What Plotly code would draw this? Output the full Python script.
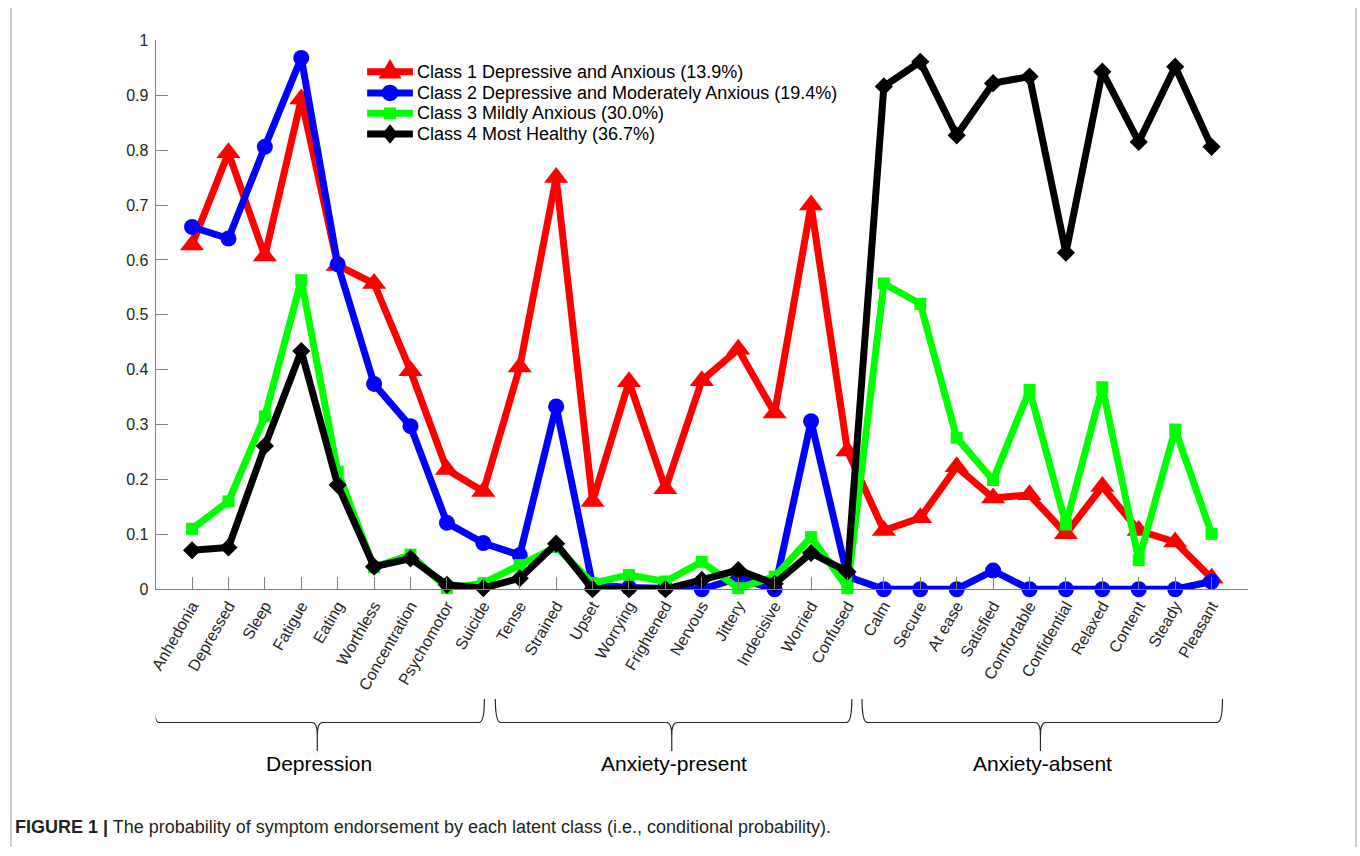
import plotly.graph_objects as go

# ---------------- data ----------------
symptoms = ["Anhedonia", "Depressed", "Sleep", "Fatigue", "Eating", "Worthless",
            "Concentration", "Psychomotor", "Suicide",
            "Tense", "Strained", "Upset", "Worrying", "Frightened", "Nervous",
            "Jittery", "Indecisive", "Worried", "Confused",
            "Calm", "Secure", "At ease", "Satisfied", "Comfortable", "Confidential",
            "Relaxed", "Content", "Steady", "Pleasant"]

class1 = [0.627, 0.795, 0.607, 0.893, 0.590, 0.557, 0.398, 0.218, 0.178,
          0.405, 0.750, 0.160, 0.378, 0.183, 0.380, 0.437, 0.321, 0.700, 0.252,
          0.107, 0.130, 0.223, 0.166, 0.172, 0.101, 0.187, 0.107, 0.086, 0.020]
class2 = [0.660, 0.639, 0.806, 0.968, 0.592, 0.374, 0.297, 0.121, 0.084,
          0.062, 0.333, 0.008, 0.003, 0.003, 0.000, 0.020, 0.000, 0.306, 0.023,
          0.000, 0.000, 0.000, 0.034, 0.000, 0.000, 0.000, 0.000, 0.000, 0.014]
class3 = [0.110, 0.160, 0.315, 0.563, 0.214, 0.040, 0.063, 0.002, 0.011,
          0.044, 0.077, 0.011, 0.026, 0.014, 0.050, 0.002, 0.023, 0.095, 0.002,
          0.557, 0.520, 0.276, 0.199, 0.363, 0.118, 0.368, 0.053, 0.291, 0.101]
class4 = [0.071, 0.076, 0.261, 0.434, 0.190, 0.041, 0.056, 0.008, 0.002,
          0.020, 0.083, 0.000, 0.000, 0.000, 0.017, 0.035, 0.010, 0.066, 0.032,
          0.916, 0.961, 0.827, 0.922, 0.934, 0.613, 0.943, 0.815, 0.952, 0.806]

series_names = ["Class 1 Depressive and Anxious (13.9%)",
                "Class 2 Depressive and Moderately Anxious (19.4%)",
                "Class 3 Mildly Anxious (30.0%)",
                "Class 4 Most Healthy (36.7%)"]

groups = ["Depression", "Anxiety-present", "Anxiety-absent"]
group_sizes = [9, 10, 10]

y_ticks = [0, 0.1, 0.2, 0.3, 0.4, 0.5, 0.6, 0.7, 0.8, 0.9, 1]
y_ticktext = ["0", "0.1", "0.2", "0.3", "0.4", "0.5", "0.6", "0.7", "0.8", "0.9", "1"]

caption = ("<b>FIGURE 1 |</b> The probability of symptom endorsement by each latent class "
           "(i.e., conditional probability).")

# ---------------- styling ----------------
W, H = 1360, 856
FONT = "Liberation Sans, Arial, sans-serif"
colors = ["#FF0000", "#0000FF", "#00FF00", "#000000"]
symbols = ["triangle-up", "circle", "square", "diamond"]
msizes = [21, 16, 12, 14]
LW = 7


def xp(px):
    return px / W


def yp(px):
    return (H - px) / H


x = list(range(1, len(symptoms) + 1))
series = [class1, class2, class3, class4]

fig = go.Figure()
for vals, name, c, s, ms in zip(series, series_names, colors, symbols, msizes):
    fig.add_trace(go.Scatter(
        x=x, y=vals, name=name, mode="lines+markers",
        line=dict(color=c, width=LW),
        marker=dict(symbol=s, size=ms, color=c, line=dict(width=0)),
        cliponaxis=False, showlegend=False,
    ))

shapes = []
annotations = []

# braces under the category labels
pad_left = [1.05, 0.67, 0.60]
pad_right = [0.03, 0.12, 0.30]
r = 0.15
start = 1
for g, n, pl, pr in zip(groups, group_sizes, pad_left, pad_right):
    x0 = start - pl
    x1 = start + n - 1 + pr
    xc = (x0 + x1) / 2 - 0.05
    path = (f"M {x0},{yp(705)} Q {x0},{yp(729)} {x0 + r},{yp(729)} "
            f"L {xc - r},{yp(729)} Q {xc},{yp(729)} {xc},{yp(742)} L {xc},{yp(758)} "
            f"M {xc},{yp(742)} Q {xc},{yp(729)} {xc + r},{yp(729)} "
            f"L {x1 - r},{yp(729)} Q {x1},{yp(729)} {x1},{yp(705)}")
    shapes.append(dict(type="path", path=path, xref="x", yref="paper",
                       line=dict(color="#262626", width=1.2)))
    annotations.append(dict(text=g, x=(x0 + x1) / 2, y=yp(771), xref="x", yref="paper",
                            showarrow=False, xanchor="center", yanchor="middle",
                            font=dict(family=FONT, size=21, color="#000000")))
    start += n

# legend (drawn by hand so that row spacing matches the original)
leg_x0, leg_x1, leg_text = 362, 408, 410
leg_rows = [65, 86.7, 107.5, 128.5]
for name, c, s, cy in zip(series_names, colors, symbols, leg_rows):
    cx = (leg_x0 + leg_x1) / 2
    shapes.append(dict(type="line", xref="paper", yref="paper",
                       x0=xp(leg_x0), x1=xp(leg_x1), y0=yp(cy), y1=yp(cy),
                       line=dict(color=c, width=LW)))
    if s == "triangle-up":
        p = (f"M {xp(cx - 11.5)},{yp(cy + 7)} L {xp(cx + 11.5)},{yp(cy + 7)} "
             f"L {xp(cx)},{yp(cy - 13)} Z")
        shapes.append(dict(type="path", xref="paper", yref="paper", path=p,
                           fillcolor=c, line=dict(color=c, width=0)))
    elif s == "circle":
        shapes.append(dict(type="circle", xref="paper", yref="paper",
                           x0=xp(cx - 8.5), x1=xp(cx + 8.5), y0=yp(cy + 8.5), y1=yp(cy - 8.5),
                           fillcolor=c, line=dict(color=c, width=0)))
    elif s == "square":
        shapes.append(dict(type="rect", xref="paper", yref="paper",
                           x0=xp(cx - 6), x1=xp(cx + 6), y0=yp(cy + 6), y1=yp(cy - 6),
                           fillcolor=c, line=dict(color=c, width=0)))
    else:
        p = (f"M {xp(cx)},{yp(cy - 10)} L {xp(cx + 8)},{yp(cy)} "
             f"L {xp(cx)},{yp(cy + 10)} L {xp(cx - 8)},{yp(cy)} Z")
        shapes.append(dict(type="path", xref="paper", yref="paper", path=p,
                           fillcolor=c, line=dict(color=c, width=0)))
    annotations.append(dict(text=name, x=xp(leg_text), y=yp(cy), xref="paper", yref="paper",
                            showarrow=False, xanchor="left", yanchor="middle",
                            font=dict(family=FONT, size=18, color="#000000")))

# figure frame (left / right edges)
shapes.append(dict(type="line", xref="paper", yref="paper",
                   x0=xp(4), x1=xp(4), y0=0, y1=1,
                   line=dict(color="#9a9a9a", width=1)))
shapes.append(dict(type="line", xref="paper", yref="paper",
                   x0=xp(1356), x1=xp(1356), y0=0, y1=1,
                   line=dict(color="#9a9a9a", width=1)))

annotations.append(dict(text=caption, x=xp(6), y=yp(836), xref="paper", yref="paper",
                        showarrow=False, xanchor="left", yanchor="middle",
                        font=dict(family=FONT, size=18, color="#231f20")))

fig.update_layout(
    width=W, height=H,
    margin=dict(l=0, r=0, t=0, b=0),
    paper_bgcolor="white", plot_bgcolor="white",
    font=dict(family=FONT, size=16, color="#262626"),
    showlegend=False,
    xaxis=dict(domain=[xp(149.4), xp(1247.4)], range=[0, 30],
               tickmode="array", tickvals=x, ticktext=symptoms, tickangle=-60,
               ticks="inside", ticklen=12, tickcolor="#808080",
               showline=True, linecolor="#808080", linewidth=1,
               showgrid=False, zeroline=False,
               tickfont=dict(family=FONT, size=16, color="#262626")),
    yaxis=dict(domain=[yp(593), yp(33)], range=[0, 1],
               tickmode="array", tickvals=y_ticks, ticktext=y_ticktext,
               ticks="inside", ticklen=12, tickcolor="#808080",
               showline=True, linecolor="#808080", linewidth=1,
               showgrid=False, zeroline=False, ticklabelstandoff=3,
               tickfont=dict(family=FONT, size=16, color="#262626")),
    shapes=shapes,
    annotations=annotations,
)

fig.write_html("out.html", config={"displayModeBar": False},
               post_script="document.body.style.margin='0px';"
                           "document.body.style.overflow='hidden';")
